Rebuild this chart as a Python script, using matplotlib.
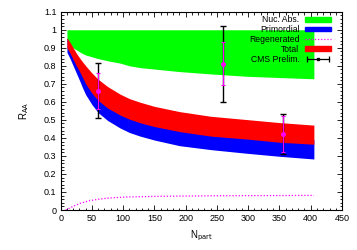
import matplotlib
matplotlib.use('Agg')
import matplotlib.pyplot as plt
from matplotlib.patches import Patch
from matplotlib.lines import Line2D
from matplotlib.legend_handler import HandlerLine2D
from matplotlib.ticker import MultipleLocator

# Band data (N_part grid shared by all bands)
npart = [10, 15, 20, 25, 30, 35, 40, 50, 60, 75, 95, 110, 127, 150, 190, 240, 297, 350, 405]
nuc_lo = [0.95, 0.92, 0.90, 0.889, 0.878, 0.868, 0.86, 0.85, 0.84, 0.828, 0.815, 0.80, 0.79, 0.782, 0.768, 0.755, 0.742, 0.735, 0.728]
nuc_hi = [1.0] * len(npart)
tot_hi = [0.955, 0.93, 0.90, 0.87, 0.845, 0.822, 0.80, 0.76, 0.725, 0.685, 0.643, 0.618, 0.598, 0.575, 0.546, 0.52, 0.502, 0.485, 0.471]
tot_lo = [0.90, 0.87, 0.835, 0.80, 0.77, 0.735, 0.70, 0.648, 0.608, 0.566, 0.527, 0.504, 0.484, 0.463, 0.435, 0.41, 0.394, 0.376, 0.365]
prim_hi = [0.955, 0.92, 0.88, 0.845, 0.81, 0.78, 0.75, 0.705, 0.665, 0.62, 0.573, 0.548, 0.526, 0.50, 0.47, 0.442, 0.423, 0.405, 0.39]
prim_lo = [0.875, 0.84, 0.80, 0.76, 0.72, 0.678, 0.64, 0.585, 0.54, 0.497, 0.455, 0.43, 0.41, 0.388, 0.357, 0.335, 0.315, 0.298, 0.283]

# Regenerated component
npart_reg = [8, 20, 31, 47, 63, 79, 105, 159, 250, 405]
regen = [0.0, 0.02, 0.037, 0.052, 0.061, 0.067, 0.072, 0.076, 0.079, 0.081]

# CMS preliminary points
cms_x = [60, 259, 355]
cms_y = [0.661, 0.811, 0.42]
cms_tot = [0.152, 0.212, 0.11]
cms_stat = [0.10, 0.12, 0.10]

plt.rcParams['font.family'] = ['Liberation Sans', 'DejaVu Sans']
plt.rcParams['font.size'] = 6.5

fig = plt.figure(figsize=(3.57, 2.5), dpi=100)
ax = fig.add_axes([0.170, 0.16, 0.788, 0.793])

ax.fill_between(npart, nuc_lo, nuc_hi, color='#00ff00', lw=0)
ax.fill_between(npart, prim_lo, prim_hi, color='#0000ff', lw=0)
ax.fill_between(npart, tot_lo, tot_hi, color='#ff0000', lw=0)
ax.plot(npart_reg, regen, color='#ff00ff', ls=(0, (1, 1.5)), lw=0.9)

ax.errorbar(cms_x, cms_y, yerr=cms_tot, fmt='none', ecolor='black', elinewidth=1.0, capsize=2, capthick=1.0)
ax.errorbar(cms_x, cms_y, yerr=cms_stat, fmt='o', color='#ff00ff', ms=2.5, elinewidth=0.8, capsize=1.5, capthick=0.8)

ax.set_xlim(0, 450)
ax.set_ylim(0, 1.1)
ax.xaxis.set_major_locator(MultipleLocator(50))
ax.xaxis.set_minor_locator(MultipleLocator(10))
ax.yaxis.set_minor_locator(MultipleLocator(0.02))
ax.set_yticks([i / 10 for i in range(12)])
ax.set_yticklabels(['0', '0.1', '0.2', '0.3', '0.4', '0.5', '0.6', '0.7', '0.8', '0.9', '1', '1.1'])
ax.tick_params(which='both', direction='in', top=True, right=True, width=0.6, pad=3)
ax.tick_params(which='major', length=3.5)
ax.tick_params(which='minor', length=1.8)
for s in ax.spines.values():
    s.set_linewidth(0.8)

ax.set_xlabel(r'N$_{\rm part}$', fontsize=7, labelpad=4)
ax.set_ylabel(r'R$_{\rm AA}$', fontsize=7, labelpad=9)

# Legend, gnuplot style: text right-aligned, swatch on the right
cap_line = Line2D([], [], color='black', lw=0.9, marker='|', ms=4, mew=0.9)
dot_line = Line2D([], [], color='black', lw=0, marker='s', ms=2)
handles = [Patch(color='#00ff00'), Patch(color='#0000ff'),
           Line2D([], [], color='#ff00ff', ls=(0, (1, 1.5)), lw=0.9),
           Patch(color='#ff0000'), (cap_line, dot_line)]
labels = ['Nuc. Abs.', 'Primordial', 'Regenerated', 'Total', 'CMS Prelim.']
ax.legend(handles, labels, loc='upper right', bbox_to_anchor=(0.974, 1.0), frameon=False,
          markerfirst=False, handlelength=3.1, handleheight=0.5, handletextpad=0.6,
          labelspacing=0.1, fontsize=6.2, borderaxespad=0,
          handler_map={cap_line: HandlerLine2D(numpoints=2), dot_line: HandlerLine2D(numpoints=1)})

fig.savefig('out.png', dpi=100)
